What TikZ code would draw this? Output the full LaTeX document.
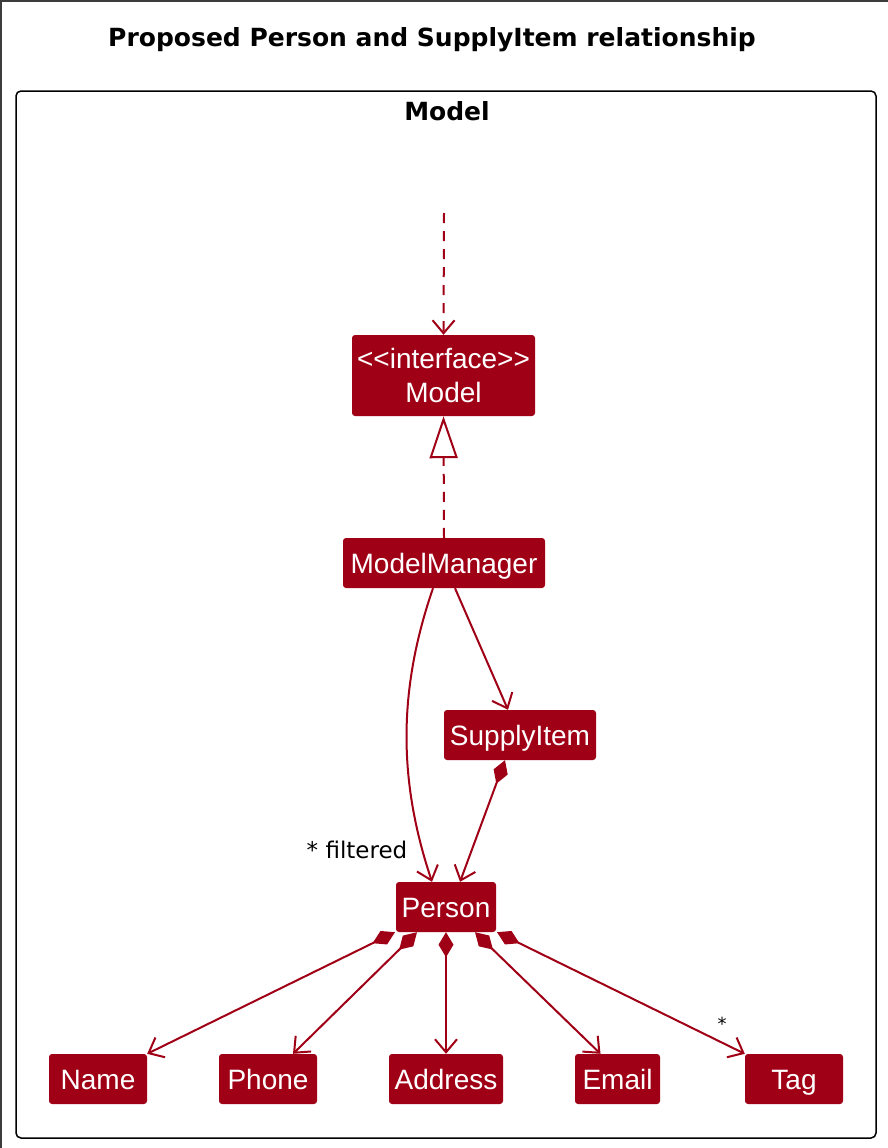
\documentclass[tikz,border=0pt]{standalone}
\usepackage{fontspec}
\setmainfont{Liberation Sans}
\newfontfamily\headfont{DejaVu Sans}
\usetikzlibrary{arrows.meta}

\definecolor{umlred}{RGB}{160,0,22}
\definecolor{edgegray}{RGB}{60,60,60}

\begin{document}
\begin{tikzpicture}[x=1pt, y=-1pt,
    clsbase/.style={fill=umlred, text=white, rounded corners=3pt, inner sep=0pt,
      minimum height=50pt, font=\fontsize{28}{34}\selectfont, align=center},
    cls/.style={clsbase, text height=22pt, text depth=2pt},
    link/.style={draw=umlred, line width=2pt, -{Straight Barb[length=13pt,width=22pt]}},
    part/.style={link, {Diamond[length=25pt,width=15pt]}-{Straight Barb[length=13pt,width=22pt]}},
    dashline/.style={dash pattern=on 10pt off 8pt},
    heading/.style={font=\headfont\bfseries\fontsize{25}{30}\selectfont}]
  \useasboundingbox (0,0) rectangle (888,1148);
  \draw[edgegray, line width=2pt] (0,1) -- (888,1) (1,0) -- (1,1148);

  \node[heading] (title) at (432,40) {Proposed Person and SupplyItem relationship};

  % package frame
  \node[draw, line width=1.5pt, rounded corners=5pt, minimum width=860pt,
    minimum height=1047pt, inner sep=0pt] (pkg) at (446,614.5) {};
  \node[heading] (pkgname) at (447,111) {Model};

  % classes
  \node[clsbase, minimum width=183pt, minimum height=81pt] (iface) at (443.5,375.5) {{<}{<}interface{>}{>}\\Model};
  \node[cls, minimum width=202pt] (mm) at (444,563) {ModelManager};
  \node[cls, minimum width=152pt] (supply) at (520,735) {SupplyItem};
  \node[cls, minimum width=100pt] (person) at (446,907) {Person};
  \node[cls, minimum width=98pt] (name) at (98,1079) {Name};
  \node[cls, minimum width=98pt] (phone) at (268,1079) {Phone};
  \node[cls, minimum width=114pt] (address) at (446,1079) {Address};
  \node[cls, minimum width=85pt] (email) at (617.5,1079) {Email};
  \node[cls, minimum width=98pt] (tag) at (794,1079) {Tag};

  \coordinate (ext) at (444,213);

  % links
  \draw[link, dashline] (ext) -- (iface.north);
  \draw[umlred, line width=2pt, dashline,
    -{Triangle[length=42pt,width=28pt,fill=white]}] (mm.north) -- (iface.south);
  \draw[link] ([xshift=-11pt]mm.south) .. controls (398,690) and (398,780) .. ([xshift=-14pt]person.north);
  \node[font=\headfont\fontsize{23}{28}\selectfont] (filt) at (357,850) {* filtered};
  \draw[link] ([xshift=11pt]mm.south) -- ([xshift=-12pt]supply.north);
  \draw[part] ([xshift=-15pt]supply.south) -- ([xshift=14pt]person.north);

  \draw[part] ([xshift=-51pt]person.south) -- (name.north east);
  \draw[part] ([xshift=-29pt]person.south) -- ([xshift=25pt]phone.north);
  \draw[part] (person.south) -- (address.north);
  \draw[part] ([xshift=29pt]person.south) -- ([xshift=-17pt]email.north);
  \draw[part] ([xshift=51pt]person.south) -- (tag.north west);
  \node[font=\headfont\fontsize{18}{20}\selectfont] (many) at (722,1024) {*};
\end{tikzpicture}
\end{document}
